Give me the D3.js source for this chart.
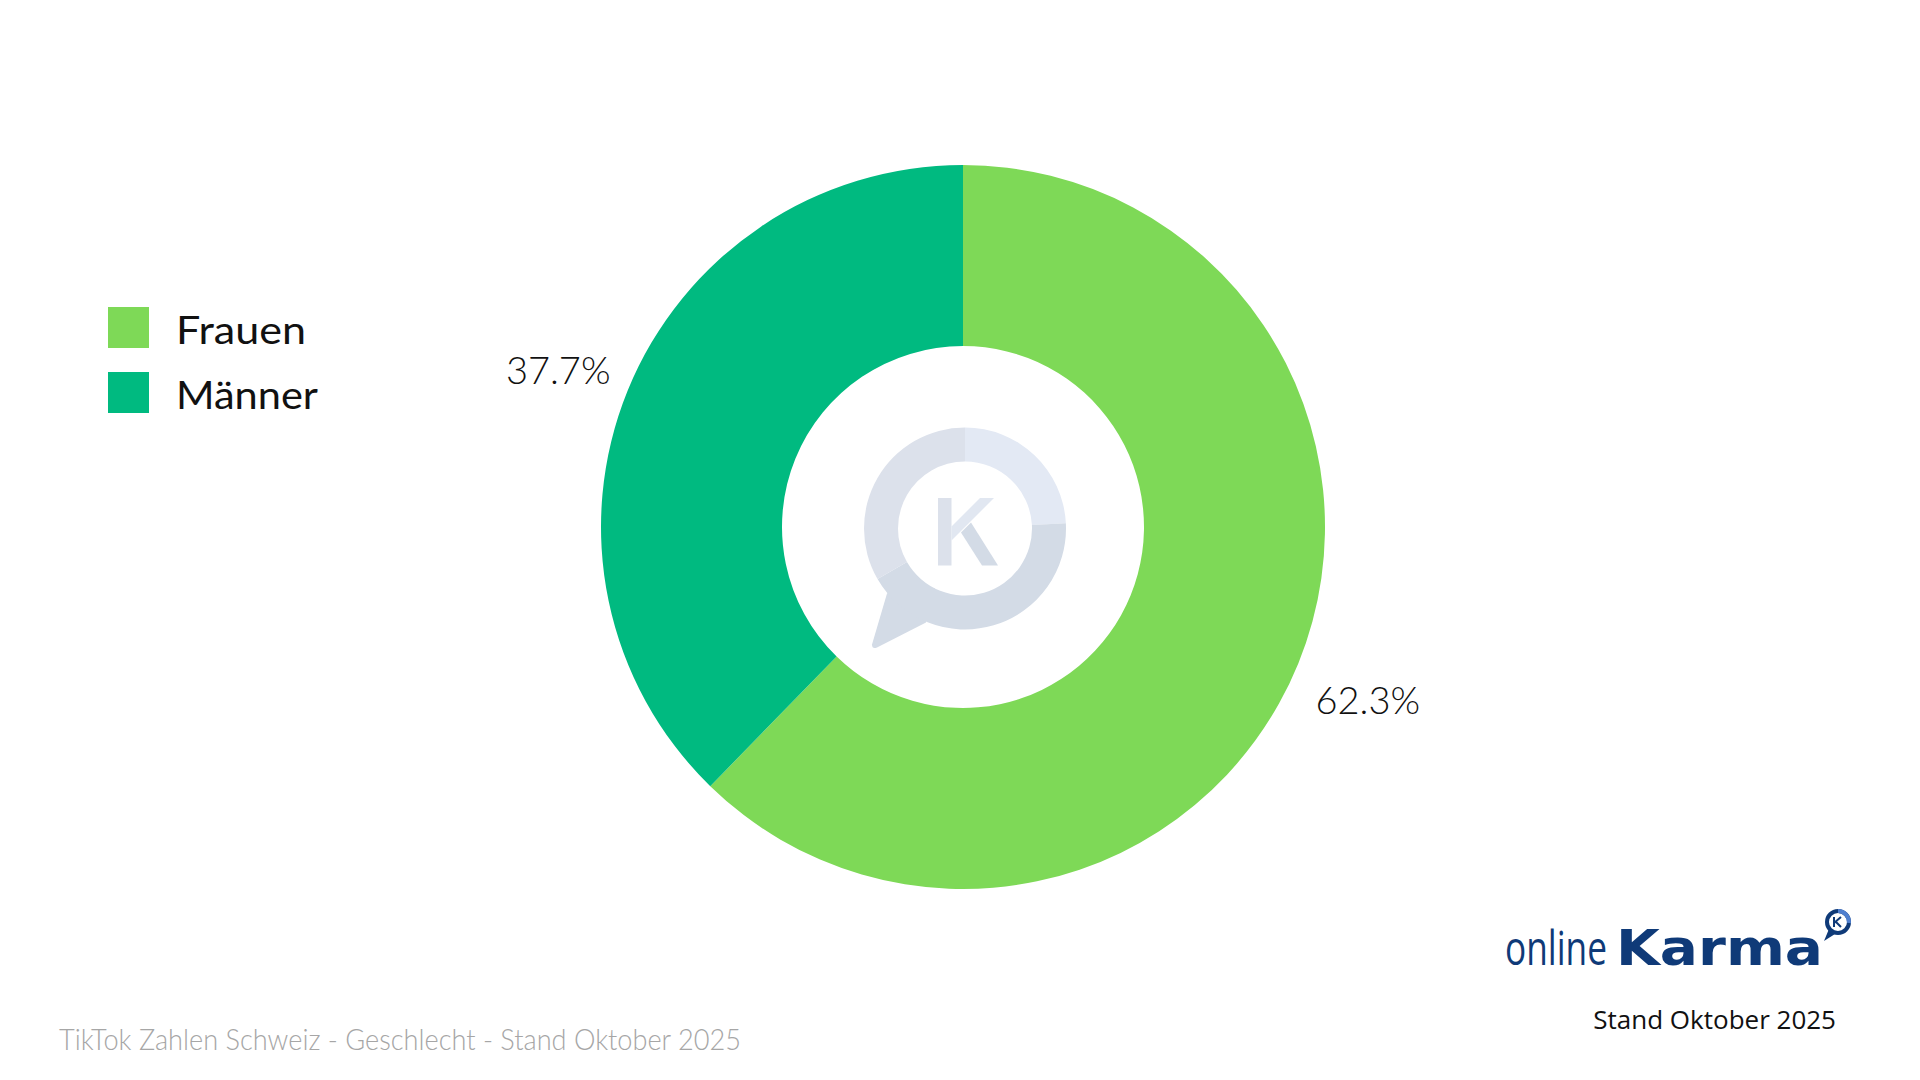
<!DOCTYPE html>
<html>
<head>
<meta charset="utf-8">
<script src="https://cdn.jsdelivr.net/npm/d3@7"></script>
<style>
  html, body { margin: 0; padding: 0; background: #fff; }
  svg { display: block; }
</style>
</head>
<body>
<svg id="chart" width="1920" height="1080"></svg>
<script>
// ---- data ----
const categories = ["Frauen", "Männer"];
const values = [62.3, 37.7];
const valueLabels = ["62.3%", "37.7%"];
const colors = ["#7ED957", "#00BA80"];
const footerText = "TikTok Zahlen Schweiz - Geschlecht - Stand Oktober 2025";
const dateText = "Stand Oktober 2025";
const logoParts = ["online", "Karma"];

// ---- layout ----
const svg = d3.select("#chart");
const W = 1920, H = 1080;
svg.append("rect").attr("width", W).attr("height", H).attr("fill", "#ffffff");

const cx = 963, cy = 527;
const outerR = 362, innerR = 181;

const pie = d3.pie().sort(null).value(d => d)(values);
const arc = d3.arc().innerRadius(innerR).outerRadius(outerR);
const labelArc = d3.arc().innerRadius(437).outerRadius(437);

const g = svg.append("g").attr("transform", `translate(${cx},${cy})`);
g.selectAll("path.slice")
  .data(pie)
  .join("path")
  .attr("class", "slice")
  .attr("d", arc)
  .attr("fill", (d, i) => colors[i]);

g.selectAll("text.val")
  .data(pie)
  .join("text")
  .attr("class", "val")
  .attr("transform", d => `translate(${labelArc.centroid(d)})`)
  .attr("text-anchor", "middle")
  .attr("dy", 22)
  .attr("font-family", "Lato, 'Open Sans', sans-serif")
  .attr("font-weight", 300)
  .attr("font-size", 38)
  .attr("fill", "#111")
  .text((d, i) => valueLabels[i]);

// ---- watermark logo in center ----
const wm = svg.append("g").attr("transform", `translate(${cx + 2},${cy + 1.5})`);
const deg = Math.PI / 180;
const wmArc = d3.arc().innerRadius(67).outerRadius(101);
wm.append("path")
  .attr("d", "M-60,55 L-78,65 L-93,116 Q-93,121 -88,119 L-39,94 L-30,60 Z")
  .attr("fill", "#d3dbe6");
[[0, 87, "#e3e9f4"], [87, 240, "#d3dbe6"], [240, 360, "#dce1eb"]].forEach(s => {
  wm.append("path")
    .attr("d", wmArc({ startAngle: s[0] * deg, endAngle: s[1] * deg }))
    .attr("fill", s[2]);
});
wm.append("rect").attr("x", -27).attr("y", -30.5).attr("width", 13.5).attr("height", 67.5).attr("fill", "#dce1eb");
wm.append("path").attr("d", "M-13.5,-2 L15,-30.5 L29,-30.5 L-13.5,12 Z").attr("fill", "#e1e7f1");
wm.append("path").attr("d", "M-4,4 L6,-6 L33,37 L17,37 Z").attr("fill", "#d3dbe6");

// ---- legend ----
const legendWidths = [130, 142];
const legend = svg.append("g");
categories.forEach((c, i) => {
  const y = 307 + i * 65;
  legend.append("rect").attr("x", 108).attr("y", y).attr("width", 41).attr("height", 41).attr("fill", colors[i]);
  legend.append("text")
    .attr("x", 176).attr("y", y + 37)
    .attr("font-family", "Lato, 'Open Sans', sans-serif")
    .attr("font-size", 39)
    .attr("fill", "#111")
    .attr("textLength", legendWidths[i])
    .attr("lengthAdjust", "spacingAndGlyphs")
    .text(c);
});

// ---- footer ----
svg.append("text")
  .attr("x", 59).attr("y", 1050)
  .attr("font-family", "Lato, 'Open Sans', sans-serif")
  .attr("font-weight", 300)
  .attr("font-size", 30)
  .attr("fill", "#a6a6a6")
  .attr("textLength", 682)
  .attr("lengthAdjust", "spacingAndGlyphs")
  .text(footerText);

svg.append("text")
  .attr("x", 1836).attr("y", 1029)
  .attr("text-anchor", "end")
  .attr("font-family", "'Open Sans', 'Noto Sans', sans-serif")
  .attr("font-size", 26)
  .attr("fill", "#111")
  .text(dateText);

// ---- brand logo: horizontally scaled so each word fills its slot ----
const logo = svg.append("g");
function logoWord(text, x, width, family, weight, size) {
  const grp = logo.append("g");
  const t = grp.append("text")
    .attr("font-family", family)
    .attr("font-weight", weight)
    .attr("font-size", size)
    .attr("fill", "#0f3a78")
    .text(text);
  const natural = t.node().getComputedTextLength();
  grp.attr("transform", `translate(${x},965) scale(${width / natural},1)`);
}
logoWord(logoParts[0], 1505, 102, "'Open Sans', Lato, sans-serif", 400, 48);
logoWord(logoParts[1], 1616, 207, "'DejaVu Sans', sans-serif", 700, 50);

// small icon (drawn as shapes)
const ic = logo.append("g").attr("transform", "translate(1838,922)");
ic.append("path").attr("d", "M-9,7 L-14,19 L-3,12 Z").attr("fill", "#0f3a78");
ic.append("circle").attr("r", 11).attr("fill", "#fff").attr("stroke", "#0f3a78").attr("stroke-width", 4);
ic.append("path")
  .attr("d", d3.arc().innerRadius(9).outerRadius(13)({ startAngle: 0, endAngle: 95 * deg }))
  .attr("fill", "#4f7fcf");
ic.append("path")
  .attr("d", "M-4,-5 V5 M-4,1 L3,-5 M-2,0 L3,5")
  .attr("stroke", "#0f3a78").attr("stroke-width", 2).attr("fill", "none");
</script>
</body>
</html>
